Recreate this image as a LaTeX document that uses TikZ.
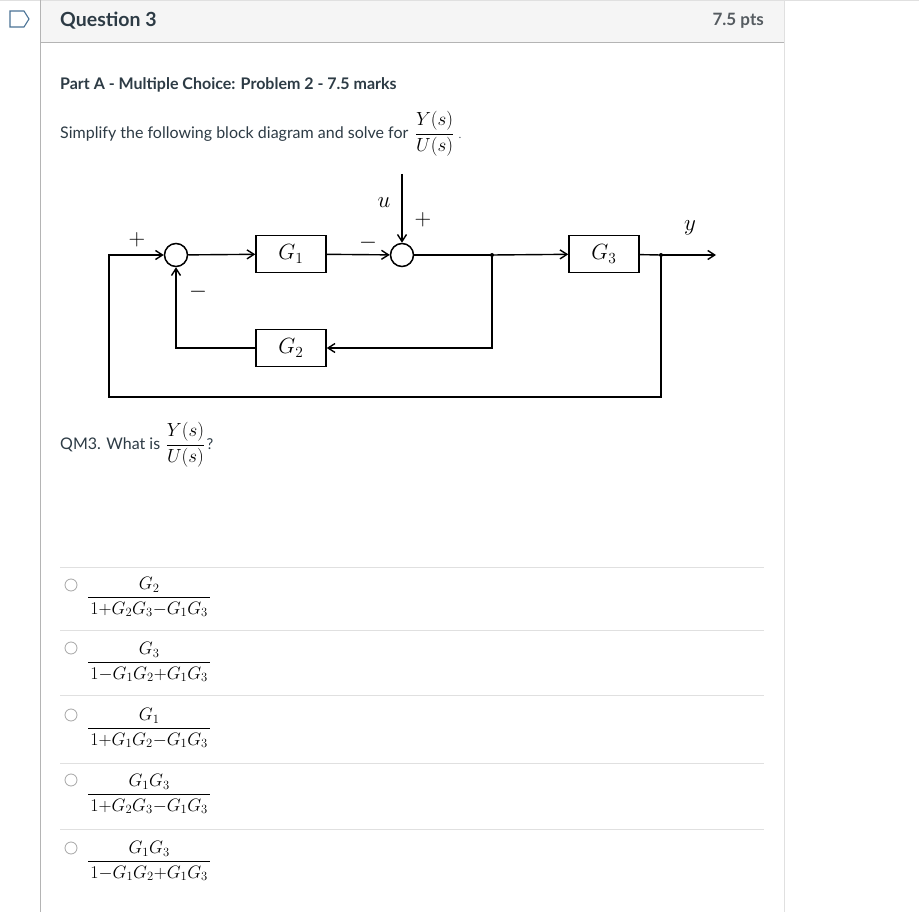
\RequirePackage{fix-cm}
\documentclass[tikz,border=0pt]{standalone}
\usepackage[no-math]{fontspec}
\usepackage{amsmath}
\setmainfont{Lato}
\usetikzlibrary{arrows.meta,positioning,calc}
\definecolor{Ink}{HTML}{2D3B45}
\definecolor{Head}{HTML}{F5F5F5}
\definecolor{Rule}{HTML}{B4B4B4}
\definecolor{Faint}{HTML}{E0E0E0}
\definecolor{Tag}{HTML}{4A7396}
\definecolor{Pts}{HTML}{555B60}

\begin{document}
\begin{tikzpicture}[x=1pt,y=-1pt,>={Straight Barb[length=7pt,width=9pt]},
    block/.style={draw,line width=1.5pt,minimum width=70pt,minimum height=37pt,inner sep=0pt,
      font=\fontsize{22}{26}\selectfont},
    sumnode/.style={draw,line width=1.5pt,circle,minimum size=23pt,inner sep=0pt},
    wire/.style={line width=1.4pt},
    sign/.style={font=\fontsize{23}{27}\selectfont,inner sep=0pt},
    txt/.style={anchor=west,inner sep=0pt,text=Ink,font=\fontsize{16}{19}\selectfont},
    radio/.style={draw=gray!70,line width=0.8pt},
    choice/.style={anchor=west,inner sep=0pt,font=\fontsize{18}{21}\selectfont}]
    \useasboundingbox (0,0) rectangle (919,912);
    \fill[white] (0,0) rectangle (919,912);
    % header bar
    \fill[Head] (40,1) rectangle (784,43);
    \draw[Faint,line width=1pt] (0,1) -- (919,1);
    \draw[Rule,line width=1pt] (40,43) -- (784,43);
    \draw[Rule,line width=1pt] (40,0) -- (40,912);
    \draw[Faint,line width=1pt] (784,0) -- (784,912);
    \draw[Tag,line width=1.1pt] (10,11) -- (24,11) -- (29,19) -- (24,27) -- (10,27) -- cycle;
    \node[txt,font=\bfseries\fontsize{19.5}{23}\selectfont] (qtitle) at (60,21) {Question 3};
    \node[anchor=east,inner sep=0pt,text=Pts,font=\bfseries\fontsize{17}{20}\selectfont] (pts) at (764,21) {7.5 pts};
    % question text
    \node[txt,font=\bfseries\fontsize{16}{19}\selectfont] (parta) at (60,85) {Part A - Multiple Choice: Problem 2 - 7.5 marks};
    \node[txt] (simp) at (60,134) {Simplify the following block diagram and solve for};
    \node[inner sep=0pt,font=\fontsize{19}{22}\selectfont,right=6pt of simp] (tf1) {$\dfrac{Y(s)}{U(s)}$};
    \node[anchor=base west,inner sep=0pt,text=Ink] (dot1) at ($(tf1.east |- simp.base)+(4,0)$) {.};
    % block diagram
    \node[sumnode] (s1) at (176,255) {};
    \node[sumnode] (s2) at (402,255) {};
    \node[block] (g1) at (291,254) {$G_1$};
    \node[block] (g3) at (604,254) {$G_3$};
    \node[block] (g2) at (291,348) {$G_2$};
    \coordinate (j1) at (492,255);
    \coordinate (j2) at (661,255);
    \coordinate (uin) at (402,174);
    \coordinate (yout) at (716,255);
    \coordinate (lowr) at (661,397);
    \coordinate (lowl) at (109,397);
    \foreach \u/\v in {s1/g1,g1/s2,j1/g3,j2/yout,uin/s2}\draw[wire,->] (\u)--(\v);
    \foreach \u/\v in {s2/j1,g3/j2}\draw[wire] (\u)--(\v);
    \draw[wire,->] (j1) |- (g2);
    \draw[wire,->] (g2) -| (s1);
    \draw[wire,->] (j2) -- (lowr) -- (lowl) |- (s1);
    \fill (j1) circle (2);
    \fill (j2) circle (2);
    \node[sign] (p1) at (137,240) {$+$};
    \node[sign] (m1) at (198,292) {$-$};
    \node[sign] (m2) at (368,243) {$-$};
    \node[sign] (p2) at (423,220) {$+$};
    \node[sign] (ulab) at (384,203) {$u$};
    \node[sign] (ylab) at (690,228) {$y$};
    % follow-up question
    \node[txt] (qm) at (60,445) {QM3. What is};
    \node[inner sep=0pt,font=\fontsize{19}{22}\selectfont,right=5pt of qm] (tf2) {$\dfrac{Y(s)}{U(s)}$};
    \node[anchor=base west,inner sep=0pt,text=Ink,font=\fontsize{15}{18}\selectfont] (qmark) at ($(tf2.east |- qm.base)+(1,0)$) {?};
    % answer choices
    \foreach \yy in {567,630,695,763,829}\draw[Faint,line width=1pt] (60,\yy) -- (764,\yy);
    \foreach \ry/\by/\num/\den [count=\i] in {
        585/597/G_2/1{+}G_2G_3{-}G_1G_3,
        648/662/G_3/1{-}G_1G_2{+}G_1G_3,
        715/728/G_1/1{+}G_1G_2{-}G_1G_3,
        780/794/G_1G_3/1{+}G_2G_3{-}G_1G_3,
        848/861/G_1G_3/1{-}G_1G_2{+}G_1G_3}{
      \draw[radio] (71,\ry) circle (6);
      \node[choice] (c\i) at (87,\by) {$\dfrac{\mkern2mu\num\mkern2mu}{\mkern2mu\den\mkern2mu}$};
    }
\end{tikzpicture}
\end{document}
